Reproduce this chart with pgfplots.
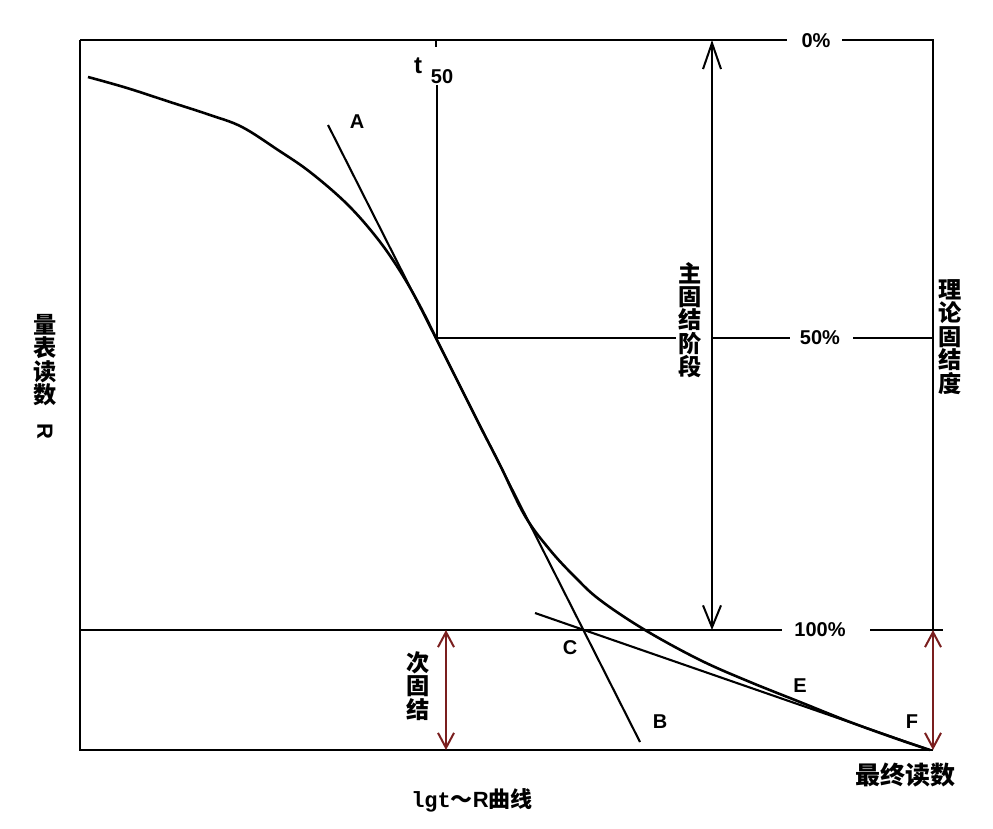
\documentclass[border=0pt]{standalone}
\usepackage{fontspec}
\usepackage{pgfplots}
\pgfplotsset{compat=1.18}
\usetikzlibrary{arrows.meta}
\setmainfont{Noto Sans CJK SC}
\newfontfamily\lat{Liberation Sans}
\newfontfamily\mono{Liberation Mono}
\definecolor{arrowRed}{HTML}{7A1E1E}

\newcommand{\vfont}{\fontsize{11.6bp}{11.7bp}\selectfont\bfseries}
\newcommand{\lfont}{\lat\fontsize{10bp}{12bp}\selectfont\bfseries}

\begin{document}
\begin{tikzpicture}
\begin{axis}[
  width=496.5bp, height=414.5bp, scale only axis,
  xmin=0, xmax=993, ymin=0, ymax=829,
  y dir=reverse,
  hide axis,
  clip=false,
  cycle list={{black,solid,mark=none}},
  every axis plot/.append style={line width=1.05bp},
]
% page extent
\addplot[draw=none, mark=none] coordinates {(0,0) (993,829)};
% frame and reference lines
\addplot[black] coordinates {(80,40) (80,750) (933,750)};
\addplot[black] coordinates {(80,40) (787,40)};
\addplot[black] coordinates {(842,40) (933,40) (933,630)};
\addplot[black] coordinates {(80,630) (782,630)};
\addplot[black] coordinates {(870,630) (943,630)};
\addplot[black] coordinates {(437,338) (676,338)};
\addplot[black] coordinates {(712,338) (790,338)};
\addplot[black] coordinates {(853,338) (933,338)};
% t50 vertical
\addplot[black] coordinates {(437,85) (437,338)};
\addplot[black] coordinates {(436,40) (436,47)};
% lgt-R curve
\addplot[black, smooth, tension=0.6, line width=1.3bp] coordinates {
 (88,77) (127,88) (170,102) (210,115) (242,127) (278,150)
 (310,172) (347,204) (377,238) (400,271) (420,306) (440,346)
 (460,386) (480,426) (500,465) (525,516) (550,550) (575,577)
 (600,600) (645,630) (700,660) (750,682) (800,702) (850,722)
 (900,740) (930,750)};
% tangents
\addplot[black] coordinates {(328,125) (640,742)};
\addplot[black] coordinates {(535,613) (930,750)};
% primary consolidation arrow
\addplot[black, {Straight Barb[length=13bp,width=9bp,line width=1bp]}-{Straight Barb[length=11bp,width=9bp,line width=1bp]}]
  coordinates {(712,40) (712,630)};
% secondary consolidation arrows
\addplot[arrowRed, {Straight Barb[length=7.5bp,width=8bp,line width=1bp]}-{Straight Barb[length=7.5bp,width=8bp,line width=1bp]}]
  coordinates {(446,630) (446,750)};
\addplot[arrowRed, {Straight Barb[length=7.5bp,width=8bp,line width=1bp]}-{Straight Barb[length=7.5bp,width=8bp,line width=1bp]}]
  coordinates {(933,630) (933,750)};

% labels
\begin{scope}[every node/.style={inner sep=0pt}]
\node[font=\lfont] at (axis cs:357,122) {A};
\node[font=\lfont] at (axis cs:660,722) {B};
\node[font=\lfont] at (axis cs:570,648) {C};
\node[font=\lfont] at (axis cs:800,686) {E};
\node[font=\lfont] at (axis cs:912,722) {F};
\node[font=\lat\fontsize{12bp}{12bp}\selectfont\bfseries] at (axis cs:418,66) {t};
\node[font=\lfont] at (axis cs:442,77) {50};
\node[font=\lfont] at (axis cs:816,41) {0\%};
\node[font=\lfont] at (axis cs:820,338) {50\%};
\node[font=\lfont] at (axis cs:820,630) {100\%};
\node[font=\vfont, align=center] at (axis cs:690,320) {主\\固\\结\\阶\\段};
\node[font=\vfont, align=center] at (axis cs:418,686) {次\\固\\结};
\node[font=\vfont, align=center] at (axis cs:950,337) {理\\论\\固\\结\\度};
\node[font=\vfont, align=center] at (axis cs:45,360) {量\\表\\读\\数};
\node[font=\lat\fontsize{11bp}{12bp}\selectfont\bfseries, rotate=-90] at (axis cs:45,431) {R};
\node[font=\fontsize{12.5bp}{14bp}\selectfont\bfseries] at (axis cs:905,775) {最终读数};
\node[font=\fontsize{11bp}{13bp}\selectfont\bfseries] at (axis cs:472,800) {{\mono\bfseries lgt}～{\lat\bfseries R}曲线};
\end{scope}
\end{axis}
\end{tikzpicture}
\end{document}
